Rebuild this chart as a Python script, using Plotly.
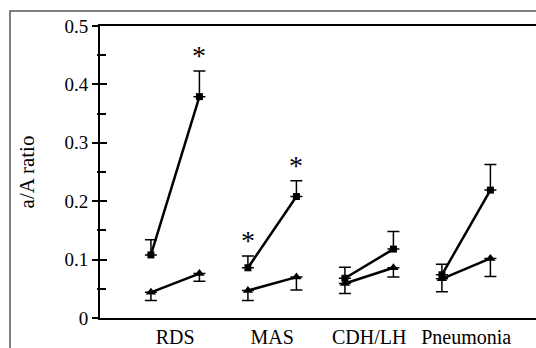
import plotly.graph_objects as go

groups = ["RDS", "MAS", "CDH/LH", "Pneumonia"]
sq_vals = [[0.108, 0.379], [0.086, 0.208], [0.068, 0.118], [0.074, 0.219]]
sq_err = [[0.026, 0.044], [0.020, 0.027], [0.019, 0.030], [0.018, 0.044]]
tri_vals = [[0.044, 0.076], [0.047, 0.070], [0.059, 0.086], [0.067, 0.102]]
tri_err = [[0.014, 0.013], [0.017, 0.022], [0.017, 0.016], [0.022, 0.031]]
sig = [[False, True], [True, True], [False, False], [False, False]]
ytick_vals = [0, 0.1, 0.2, 0.3, 0.4, 0.5]
ytick_text = ["0", "0.1", "0.2", "0.3", "0.4", "0.5"]

FONT = "Liberation Serif, Times New Roman, serif"
fig = go.Figure()

for i, g in enumerate(groups):
    xs = [2 * i, 2 * i + 1]
    fig.add_trace(go.Scatter(
        x=xs, y=sq_vals[i], mode="lines+markers",
        line=dict(color="black", width=2.5),
        marker=dict(symbol="square", size=7, color="black"),
        error_y=dict(type="data", symmetric=False, array=sq_err[i],
                     arrayminus=[0, 0], color="black", thickness=1.5, width=6),
        showlegend=False, hoverinfo="skip"))
    fig.add_trace(go.Scatter(
        x=xs, y=tri_vals[i], mode="lines+markers",
        line=dict(color="black", width=2.5),
        marker=dict(symbol="triangle-up", size=9, color="black"),
        error_y=dict(type="data", symmetric=False, array=[0, 0],
                     arrayminus=tri_err[i], color="black", thickness=1.5, width=6),
        showlegend=False, hoverinfo="skip"))
    for j in range(2):
        if sig[i][j]:
            fig.add_annotation(x=xs[j], y=sq_vals[i][j] + sq_err[i][j],
                               text="*", showarrow=False, yanchor="bottom",
                               yshift=-2, font=dict(family=FONT, size=28, color="#000000"))

fig.add_trace(go.Scatter(x=[0], y=[0], yaxis="y2", mode="markers",
                         marker=dict(opacity=0), showlegend=False, hoverinfo="skip"))

fig.update_layout(
    width=536, height=348,
    margin=dict(l=100, r=0, t=26, b=30),
    paper_bgcolor="white", plot_bgcolor="white",
    font=dict(family=FONT, color="black", size=18),
    xaxis=dict(range=[-1.05, 7.94], showgrid=False, zeroline=False,
               showline=True, linecolor="black", linewidth=2, mirror=True,
               tickvals=[2 * i + 0.5 for i in range(len(groups))], ticktext=groups,
               ticks="", tickfont=dict(size=20, family=FONT)),
    yaxis=dict(range=[0, 0.5], showgrid=False, zeroline=False,
               showline=True, linecolor="black", linewidth=2,
               tickvals=ytick_vals, ticktext=ytick_text, ticks="outside",
               ticklen=6, tickwidth=1.5, tickcolor="black",
               minor=dict(dtick=0.05, ticks="outside", ticklen=1, tickwidth=1.5, tickcolor="black"),
               tickfont=dict(size=19, family=FONT),
               title=dict(text="a/A ratio", font=dict(size=21, family=FONT), standoff=24)),
    yaxis2=dict(range=[0, 0.5], overlaying="y", side="left", showgrid=False,
                zeroline=False, showline=False, showticklabels=False,
                tickvals=ytick_vals, ticks="inside", ticklen=7, tickwidth=1.5, tickcolor="black",
                minor=dict(dtick=0.05, ticks="inside", ticklen=6, tickwidth=1.5, tickcolor="black")),
)

fig.add_shape(type="rect", xref="paper", yref="paper",
              x0=(10 - 100) / 436, x1=1.2, y0=-0.3, y1=1 + 15 / 292,
              line=dict(color="#555555", width=1.5), fillcolor="rgba(0,0,0,0)", layer="below")

fig.write_html("out.html")
